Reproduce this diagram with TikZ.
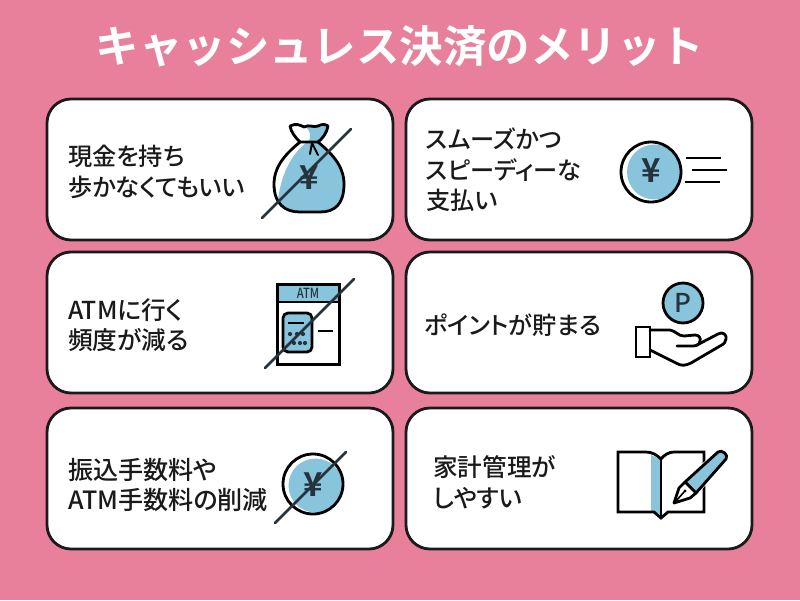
\documentclass[tikz,border=0pt]{standalone}
\usepackage{fontspec}
\setmainfont[RawFeature=+palt]{Noto Sans CJK JP Medium}
\newfontfamily\cjkbold{Noto Sans CJK JP Bold}
\definecolor{bgpink}{HTML}{E8809C}
\definecolor{iconblue}{HTML}{88C5DD}
\definecolor{inkdark}{HTML}{1A1A1A}
\definecolor{yendark}{HTML}{26333D}
\tikzset{
  card/.style={draw=inkdark,line width=2.8pt,fill=white,rounded corners=24pt,minimum width=346pt,minimum height=141pt,inner sep=0pt},
  cardtext/.style={font=\fontsize{24.2}{30.5}\selectfont,text=inkdark,align=left,anchor=west,inner sep=0pt},
  icon/.style={draw=black,line width=2.8pt,line join=round,line cap=round},
  slash/.style={draw=yendark,line width=2.6pt,line cap=round},
  yen/.style={font=\cjkbold\fontsize{33}{33}\selectfont,text=yendark,inner sep=0pt},
}
\begin{document}
\begin{tikzpicture}[x=1pt,y=-1pt]
\useasboundingbox (0,0) rectangle (800,600);
\fill[bgpink] (0,0) rectangle (800,600);
\node[font=\cjkbold\fontsize{43.5}{44}\selectfont,text=white,inner sep=0pt] (title) at (400,46) {キャッシュレス決済のメリット};

\node[card] (c1) at (220,169.5) {};
\node[card] (c2) at (579,169.5) {};
\node[card] (c3) at (220,322.5) {};
\node[card] (c4) at (579,322.5) {};
\node[card] (c5) at (220,478.5) {};
\node[card] (c6) at (579,478.5) {};

\node[cardtext] (t1) at (68,172) {現金を持ち\\歩かなくてもいい};
\node[cardtext] (t2) at (426,170) {スムーズかつ\\スピーディーな\\支払い};
\node[cardtext,font=\fontsize{24.7}{30.5}\selectfont] (t3) at (68,325) {ATMに行く\\頻度が減る};
\node[cardtext] (t4) at (424,325) {ポイントが貯まる};
\node[cardtext,font=\fontsize{25.1}{30.5}\selectfont] (t5) at (68,485) {振込手数料や\\ATM手数料の削減};
\node[cardtext,font=\fontsize{24.6}{30.5}\selectfont] (t6) at (433,482) {家計管理が\\しやすい};

% money bag
\begin{scope}
\clip (300,143) .. controls (288,152) and (274,165) .. (274,184) .. controls (274,204) and (285,212) .. (300,212) -- (320,212) .. controls (335,212) and (344,204) .. (344,184) .. controls (344,165) and (330,152) .. (318,143) -- cycle;
\fill[iconblue] (306,143) .. controls (290,155) and (278,180) .. (277,212) -- (345,214) -- (345,143) -- cycle;
\end{scope}
\fill[iconblue] (306,127) -- (328,126) .. controls (327,134) and (322,139) .. (316,142) -- (308,142) .. controls (312,136) and (310,131) .. (306,127) -- cycle;
\draw[icon] (300,142) .. controls (288,152) and (274,165) .. (274,184) .. controls (274,204) and (285,212) .. (300,212) -- (320,212) .. controls (335,212) and (344,204) .. (344,184) .. controls (344,165) and (330,152) .. (318,142);
\draw[icon] (300,142) .. controls (295,137) and (291,132) .. (290,126) .. controls (296,123) and (300,125) .. (304,127) .. controls (309,124) and (314,128) .. (318,126) .. controls (322,124) and (325,124) .. (328,126) .. controls (327,133) and (322,139) .. (318,142) -- cycle;
\draw[icon,line width=2pt] (312,143) -- (310,154) (312,143) -- (318,155);
\node[yen] (yen1) at (309,178) {¥};
\draw[slash] (262,218) -- (351,129);

% coin moving
\fill[iconblue] (654.5,172) circle (27.5);
\draw[icon] (651,172) circle (30);
\node[yen] (yen2) at (651,171) {¥};
\draw[icon,line cap=butt] (686,158) -- (721,158);
\draw[icon,line cap=butt] (692,170) -- (727,170);
\draw[icon,line cap=butt] (685,182) -- (720,182);

% ATM
\fill[white] (277.3,284.3) rectangle (339.3,364.3);
\fill[iconblue] (277.3,284.3) rectangle (339.3,302);
\draw[icon,line cap=butt,line join=miter] (277.3,284.3) rectangle (339.3,364.3);
\draw[icon,line cap=butt] (277.3,302) -- (339.3,302);
\node[font=\fontsize{14}{14}\selectfont,text=yendark,inner sep=0pt,xscale=.8] (atm) at (308,293.5) {ATM};
\draw[icon,fill=iconblue,rounded corners=5pt] (283,313) rectangle (312,352);
\draw[icon,line cap=butt] (288,323) -- (304,323);
\foreach \px/\py in {290/334,297/334,303/334,294/343,300/343,305/343}{\fill[yendark] (\px,\py) circle (2.1);}
\draw[icon,line cap=butt] (318,331) -- (333,331);
\draw[slash] (265,368) -- (354,279);

% point coin and hand
\draw[icon,fill=iconblue] (683,303) circle (20);
\node[font=\fontsize{26}{26}\selectfont,text=yendark,inner sep=0pt] (pt) at (683,303) {P};
\draw[icon,line join=miter] (636,327) rectangle (650,357);
\draw[icon] (650,330) -- (670,330) .. controls (676,331) and (678,336) .. (684,336) -- (695,335) .. controls (699,335) and (701,338) .. (700,341) .. controls (699,345) and (697,346) .. (692,346) -- (677,346);
\draw[icon] (697,345) -- (718,334) .. controls (723,331) and (727,335) .. (726,339) .. controls (726,342) and (724,344) .. (720,346) -- (691,363) .. controls (685,366) and (681,366) .. (676,363) -- (650,350);

% crossed coin
\fill[iconblue] (315.5,485.5) circle (27);
\draw[icon] (313,484) circle (30);
\node[yen] (yen3) at (313,485) {¥};
\draw[slash] (275,523) -- (346,452);

% book and pen
\fill[iconblue] (651,455) -- (660,459) -- (660,514) -- (651,512) -- cycle;
\draw[icon,line cap=butt,line join=miter] (618,452) -- (646,452) .. controls (652,452) and (657,455) .. (661,459) .. controls (664,455) and (669,452) .. (674,452) -- (704,452) -- (704,512) -- (668,512) -- (661,518) -- (654,512) -- (618,512) -- cycle;
\draw[icon,line cap=butt] (661,459) -- (661,518);
\draw[draw=white,line width=4pt,line join=round,fill=white] (685,482) -- (718,452) .. controls (722,449) and (729,455) .. (726,459) -- (696,493) -- (690,499) -- (672,505) -- (679,488) -- cycle;
\draw[icon,fill=iconblue] (685,482) -- (718,452) .. controls (722,449) and (729,455) .. (726,459) -- (696,493) -- cycle;
\draw[icon,fill=white] (685,482) -- (679,488) -- (674,503) -- (690,498) -- (696,493) -- cycle;
\draw[icon,line width=1.6pt] (676,501) -- (684,492);
\fill[black] (685,491) circle (1.6);
\end{tikzpicture}
\end{document}
